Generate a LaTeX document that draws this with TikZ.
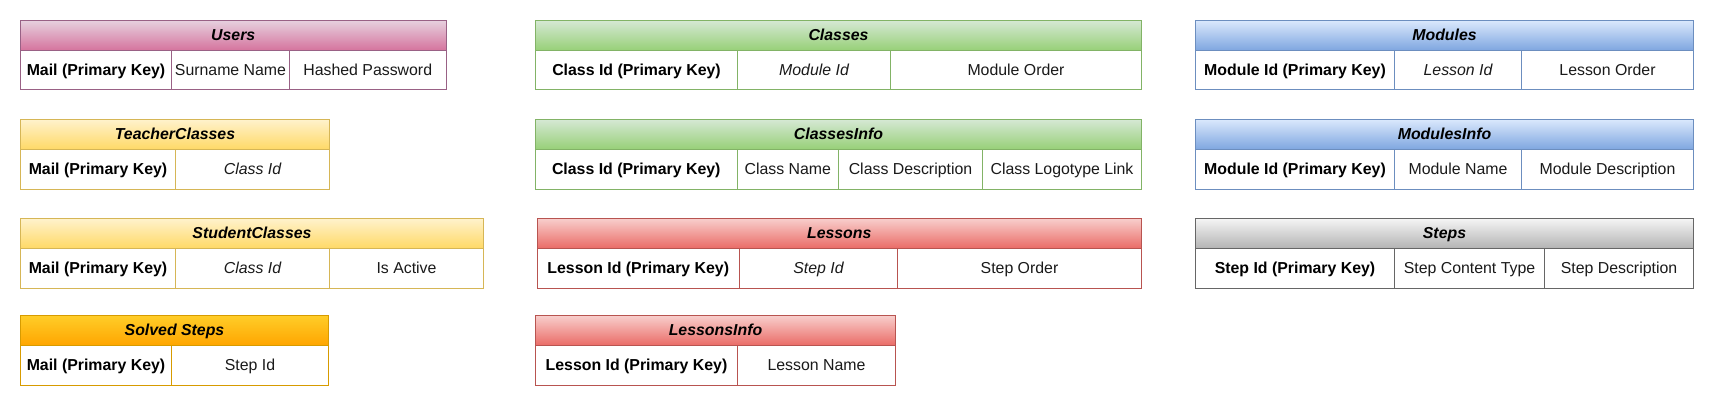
\documentclass[tikz,border=0pt]{standalone}
\usepackage{fontspec}
\setmainfont{Liberation Sans}
\definecolor{pinkT}{HTML}{E6D0DE}\definecolor{pinkB}{HTML}{D5739D}\definecolor{pinkS}{HTML}{996185}
\definecolor{greenT}{HTML}{D5E8D4}\definecolor{greenB}{HTML}{97D077}\definecolor{greenS}{HTML}{82B366}
\definecolor{blueT}{HTML}{DAE8FC}\definecolor{blueB}{HTML}{7EA6E0}\definecolor{blueS}{HTML}{6C8EBF}
\definecolor{yelT}{HTML}{FFF2CC}\definecolor{yelB}{HTML}{FFD966}\definecolor{yelS}{HTML}{D6B656}
\definecolor{orT}{HTML}{FFCD28}\definecolor{orB}{HTML}{FFA500}\definecolor{orS}{HTML}{D79B00}
\definecolor{redT}{HTML}{F8CECC}\definecolor{redB}{HTML}{EA6B66}\definecolor{redS}{HTML}{B85450}
\definecolor{greyT}{HTML}{F5F5F5}\definecolor{greyB}{HTML}{B3B3B3}\definecolor{greyS}{HTML}{666666}
\definecolor{txt}{HTML}{1A1A1A}
\newcommand\tcell[7]{\node[#2, minimum width={(#4-#3)*0.75pt}, minimum height={(#6-#5)*0.75pt}] (#1) at ({(#3+#4)/2},{(#5+#6)/2}) {#7};}
\tikzset{
  base/.style={rectangle, inner sep=0pt, outer sep=0pt, line width=0.75pt, text=txt,
    font=\fontsize{11.9}{14}\selectfont, text height=0.78em, text depth=0pt},
  hdrbase/.style={base, font=\fontsize{11.9}{14}\selectfont\bfseries\itshape, text=black},
  cellbase/.style={base, fill=white},
  pinkh/.style={hdrbase, draw=pinkS, top color=pinkT, bottom color=pinkB},
  pinkc/.style={cellbase, draw=pinkS},
  greenh/.style={hdrbase, draw=greenS, top color=greenT, bottom color=greenB},
  greenc/.style={cellbase, draw=greenS},
  blueh/.style={hdrbase, draw=blueS, top color=blueT, bottom color=blueB},
  bluec/.style={cellbase, draw=blueS},
  yelh/.style={hdrbase, draw=yelS, top color=yelT, bottom color=yelB},
  yelc/.style={cellbase, draw=yelS},
  orh/.style={hdrbase, draw=orS, top color=orT, bottom color=orB},
  orc/.style={cellbase, draw=orS},
  redh/.style={hdrbase, draw=redS, top color=redT, bottom color=redB},
  redc/.style={cellbase, draw=redS},
  greyh/.style={hdrbase, draw=greyS, top color=greyT, bottom color=greyB},
  greyc/.style={cellbase, draw=greyS},
  pk/.style={font=\fontsize{11.9}{14}\selectfont\bfseries, text=black},
  fk/.style={font=\fontsize{11.9}{14}\selectfont\itshape},
}
\begin{document}
\begin{tikzpicture}[x=0.75pt, y=-0.75pt]
\useasboundingbox[fill=white] (0,0) rectangle (1716,406);
% Users
\tcell{users}{pinkh}{20.5}{446}{20.5}{50.5}{Users}
\tcell{users1}{pinkc,pk}{20.5}{171.5}{50.5}{90}{Mail (Primary Key)}
\tcell{users2}{pinkc}{171.5}{289.5}{50.5}{90}{Surname Name}
\tcell{users3}{pinkc}{289.5}{446}{50.5}{90}{Hashed Password}
% TeacherClasses
\tcell{tc}{yelh}{20.5}{329.5}{119.5}{149.5}{TeacherClasses}
\tcell{tc1}{yelc,pk}{20.5}{175.5}{149.5}{189}{Mail (Primary Key)}
\tcell{tc2}{yelc,fk}{175.5}{329.5}{149.5}{189}{Class Id}
% StudentClasses
\tcell{sc}{yelh}{20.5}{483.5}{218.5}{248.5}{StudentClasses}
\tcell{sc1}{yelc,pk}{20.5}{175.5}{248.5}{288}{Mail (Primary Key)}
\tcell{sc2}{yelc,fk}{175.5}{329.5}{248.5}{288}{Class Id}
\tcell{sc3}{yelc}{329.5}{483.5}{248.5}{288}{Is Active}
% Solved Steps
\tcell{ss}{orh}{20.5}{328.5}{315.5}{345.5}{Solved Steps}
\tcell{ss1}{orc,pk}{20.5}{171.5}{345.5}{385}{Mail (Primary Key)}
\tcell{ss2}{orc}{171.5}{328.5}{345.5}{385}{Step Id}
% Classes
\tcell{cl}{greenh}{535.5}{1141.5}{20.5}{50.5}{Classes}
\tcell{cl1}{greenc,pk}{535.5}{737.5}{50.5}{90}{Class Id (Primary Key)}
\tcell{cl2}{greenc,fk}{737.5}{890.5}{50.5}{90}{Module Id}
\tcell{cl3}{greenc}{890.5}{1141.5}{50.5}{90}{Module Order}
% ClassesInfo
\tcell{ci}{greenh}{535.5}{1141.5}{119.5}{149.5}{ClassesInfo}
\tcell{ci1}{greenc,pk}{535.5}{737}{149.5}{189}{Class Id (Primary Key)}
\tcell{ci2}{greenc}{737}{838.5}{149.5}{189}{Class Name}
\tcell{ci3}{greenc}{838.5}{982.5}{149.5}{189}{Class Description}
\tcell{ci4}{greenc}{982.5}{1141.5}{149.5}{189}{Class Logotype Link}
% Lessons
\tcell{le}{redh}{537}{1141.5}{218.5}{248.5}{Lessons}
\tcell{le1}{redc,pk}{537}{739.5}{248.5}{288}{Lesson Id (Primary Key)}
\tcell{le2}{redc,fk}{739.5}{897.5}{248.5}{288}{Step Id}
\tcell{le3}{redc}{897.5}{1141.5}{248.5}{288}{Step Order}
% LessonsInfo
\tcell{li}{redh}{535.5}{895.5}{315.5}{345.5}{LessonsInfo}
\tcell{li1}{redc,pk}{535.5}{737.5}{345.5}{385}{Lesson Id (Primary Key)}
\tcell{li2}{redc}{737.5}{895.5}{345.5}{385}{Lesson Name}
% Modules
\tcell{mo}{blueh}{1195.5}{1693.5}{20.5}{50.5}{Modules}
\tcell{mo1}{bluec,pk}{1195.5}{1394.5}{50.5}{90}{Module Id (Primary Key)}
\tcell{mo2}{bluec,fk}{1394.5}{1521.5}{50.5}{90}{Lesson Id}
\tcell{mo3}{bluec}{1521.5}{1693.5}{50.5}{90}{Lesson Order}
% ModulesInfo
\tcell{mi}{blueh}{1195.5}{1693.5}{119.5}{149.5}{ModulesInfo}
\tcell{mi1}{bluec,pk}{1195.5}{1394.5}{149.5}{189}{Module Id (Primary Key)}
\tcell{mi2}{bluec}{1394.5}{1521.5}{149.5}{189}{Module Name}
\tcell{mi3}{bluec}{1521.5}{1693.5}{149.5}{189}{Module Description}
% Steps
\tcell{st}{greyh}{1195.5}{1693.5}{218.5}{248.5}{Steps}
\tcell{st1}{greyc,pk}{1195.5}{1394.5}{248.5}{288}{Step Id (Primary Key)}
\tcell{st2}{greyc}{1394.5}{1544.5}{248.5}{288}{Step Content Type}
\tcell{st3}{greyc}{1544.5}{1693.5}{248.5}{288}{Step Description}
\end{tikzpicture}
\end{document}
